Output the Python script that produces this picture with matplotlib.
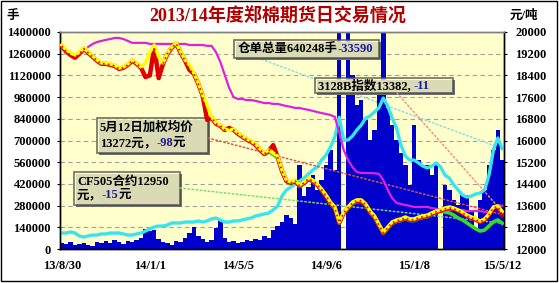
import numpy as np
import matplotlib
matplotlib.use('agg')
import matplotlib.pyplot as plt
from matplotlib.patches import Rectangle

plt.rcParams['font.family'] = ['Liberation Serif', 'Noto Sans CJK SC']
plt.rcParams['font.weight'] = 'bold'

nan = np.nan
date_labels = ['13/8/30', '14/1/1', '14/5/5', '14/9/6', '15/1/8', '15/5/12']

# daily volume (手), sampled
volume = [39000, 32000, 45000, 26000, 32000, 39000, 26000, 19000, 45000, 39000,
          52000, 39000, 58000, 45000, 32000, 52000, 45000, 58000, 71000, 129000,
          116000, 123000, 65000, 45000, 39000, 26000, 52000, 45000, 71000, 103000,
          142000, 84000, 65000, 45000, 58000, 135000, 181000, 71000, 45000, 52000,
          39000, 45000, 58000, 52000, 65000, 58000, 84000, 71000, 123000, 148000,
          174000, 219000, 200000, 161000, 542000, 342000, 400000, 477000, 381000, 445000,
          542000, 639000, 510000, 1450000, 0, 1450000, 1123000, 929000, 961000, 832000,
          703000, 768000, 1026000, 1394000, 910000, 800000, 703000, 619000, 542000, 413000,
          800000, 574000, 542000, 542000, 477000, 542000, 0, 413000, 381000, 316000,
          284000, 348000, 348000, 252000, 120000, 316000, 381000, 542000, 639000, 768000,
          574000]

# 仓单总量 (手)
receipts = [103000, 103000, 110000, 103000, 84000, 77000, 84000, 90000, 90000, 97000,
            97000, 103000, 103000, 103000, 97000, 90000, 90000, 97000, 103000, 116000,
            129000, 142000, 148000, 148000, 155000, 168000, 168000, 168000, 174000, 174000,
            174000, 181000, 174000, 181000, 194000, 200000, 187000, 174000, 174000, 181000,
            181000, 187000, 194000, 200000, 213000, 219000, 226000, 232000, 252000, 277000,
            342000, 381000, 400000, 419000, 439000, 458000, 484000, 510000, 529000, 574000,
            606000, 658000, 723000, 850000, 703000, 703000, 729000, 768000, 800000, 845000,
            858000, 884000, 910000, 974000, 923000, 845000, 781000, 671000, 600000, 574000,
            574000, 555000, 535000, 523000, 535000, 555000, 529000, 477000, 458000, 413000,
            381000, 348000, 335000, 342000, 355000, 361000, 381000, 477000, 639000, 716000,
            648000]

# magenta price line (元/吨)
magenta = [nan, nan, nan, nan, nan, nan, 19450, 19560, 19630, 19670,
           19710, 19740, 19780, 19780, 19740, 19670, 19600, 19600, 19600, 19600,
           19560, 19560, 19560, 19560, 19560, 19560, 19560, 19560, 19560, 19520,
           19520, 19520, 19520, 19490, 19490, 19260, 18900, 18420, 17940, 17600,
           17530, 17530, 17490, 17490, 17460, 17420, 17380, 17380, 17350, 17350,
           17310, 17270, 17240, 17200, 17200, 17160, 17130, 17090, 17050, 17010,
           16980, 16940, 16870, 16280, 15650, 15280, 15020, 14840, 14800, 14800,
           14800, 14790, 14770, 14540, 14180, 13880, 13700, 13660, 13620, 13590,
           13550, 13550, 13550, 13550, 13510, 13480, 13440, 13440, 13440, 13440,
           13440, 13440, 13400, 13400, 13400, 13400, 13360, 13360, 13510, 13620,
           13590]

# 3128B指数
index_3128b = [19520, 19340, 19230, 19150, 19260, 19410, 19260, 19120, 18970, 18860,
               18860, 18820, 18780, 18670, 18710, 18820, 18970, 18860, 18710, 18860,
               19260, 19520, 19080, 18860, 19230, 19450, 19600, 19260, 18970, 18780,
               18490, 18120, 17680, 17310, 16870, 16650, 16570, 16420, 16390, 16420,
               16280, 16170, 16060, 15980, 15870, 15690, 15540, 15650, 15540, 15430,
               14910, 14540, 14470, 14540, 14360, 14470, 14620, 14540, 14400, 14210,
               13990, 13730, 13550, 13000, 13360, 13550, 13730, 13810, 13810, 13660,
               13400, 13220, 12920, 12630, 12810, 13000, 13070, 13110, 13180, 13110,
               13110, 13180, 13220, 13250, 13330, 13400, 13440, 13510, 13550, 13510,
               13440, 13360, 13250, 13180, 13110, 13030, 13110, 13290, 13550, 13590,
               13382]

# 加权均价
weighted = [19480, 19280, 19150, 19050, 19200, 19380, 19230, 19090, 18940, 18830,
            18830, 18790, 18750, 18640, 18680, 18790, 18940, 18830, 18680, 18340,
            18400, 19450, 18300, 18830, 19200, 19420, 19570, 19230, 18940, 18600,
            18460, 18090, 17650, 16760, 16840, 16620, 16540, 16390, 16460, 16390,
            16250, 16140, 16030, 15950, 15840, 15660, 15510, 15620, 15830, 15400,
            14880, 14510, 14440, 14510, 14330, 14440, 14590, 14510, 14370, 14180,
            13960, 13700, 13520, 12970, 13330, 13520, 13700, 13780, 13780, 13630,
            13370, 13190, 12890, 12600, 12780, 12970, 13040, 13080, 13150, 13080,
            13080, 13150, 13190, 13220, 13300, 13370, 13410, 13480, 13520, 13480,
            13410, 13330, 13220, 13150, 13080, 13000, 13080, 13260, 13520, 13560,
            13272]

# CF505合约
cf505 = [nan] * 44 + [
    15810, 15630, 15480, 15590, 15480, 15370,
    14850, 14480, 14410, 14480, 14300, 14410, 14560, 14480, 14340, 14150,
    13930, 13670, 13490, 12940, 13300, 13490, 13670, 13750, 13750, 13600,
    13340, 13160, 12860, 12570, 12750, 12940, 13010, 13050, 13120, 13050,
    13050, 13120, 13160, 13190, 13270, 13340, 13400, 13360, 13330, 13250,
    13140, 13070, 12960, 12850, 12740, 12660, 12700, 12850, 13000, 13070,
    12950]

W, H = 559, 283
x = np.arange(len(volume))

fig = plt.figure(figsize=(W / 100, H / 100), dpi=100, facecolor='white')
ax = fig.add_axes([60 / W, 1 - 249 / H, 444 / W, 217 / H])
ax.set_facecolor('#ffffcc')
ax.bar(x, volume, width=1.0, color='#0000cc', lw=0, zorder=2)
ax.plot(x, receipts, color='#38e4f0', lw=2.4, zorder=3)
ax.set_xlim(-0.4, 100.4)
ax.set_ylim(0, 1400000)
ax.set_yticks(np.arange(0, 1400001, 140000))
ax.set_yticklabels([str(v) for v in range(0, 1400001, 140000)])
ax.set_xticks([0, 20, 40, 60, 80, 100])
ax.set_xticklabels(date_labels)
ax.grid(axis='y', ls=(0, (4, 3)), color='#a0a0a0', lw=0.8)
ax.set_axisbelow(True)
ax.tick_params(axis='y', direction='out', length=2.5, pad=4, labelsize=9)
ax.tick_params(axis='x', length=0, pad=8, labelsize=9)

ax2 = ax.twinx()
ax2.set_ylim(12000, 20000)
ax2.set_yticks(np.arange(12000, 20001, 800))
ax2.tick_params(axis='y', direction='out', length=2.5, pad=5.5, labelsize=9)
ax2.plot(x, magenta, color='#e020e0', lw=1.6, zorder=3)
ax2.plot(x, cf505, color='#33dd22', lw=2.6, zorder=4)
ax2.plot(x, weighted, color='#e00000', lw=3.2, zorder=5)
ax2.plot(x, index_3128b, color='#ffff00', lw=2.5, zorder=6)
ax2.plot(x, weighted, color='#e00000', lw=1.2, ls=(0, (1, 2)), zorder=7)

for a in (ax, ax2):
    for s in a.spines.values():
        s.set_color('black')
        s.set_linewidth(1)
    a.spines['top'].set_color('#808080')

# outer frame
fig.patches.append(Rectangle((1 / W, 2 / H), (W - 3) / W, (H - 3) / H,
                             transform=fig.transFigure, fill=False,
                             ec='black', lw=1))

fig.text(278 / W, 1 - 17 / H, '2013/14年度郑棉期货日交易情况', ha='center',
         va='center', color='#b00000', fontsize=13, weight='bold')
fig.text(13 / W, 1 - 16 / H, '手', ha='center', va='center', fontsize=9)
fig.text(524 / W, 1 - 16 / H, '元/吨', ha='center', va='center', fontsize=9)


def box(x0, y0, x1, y1):
    sh = Rectangle(((x0 + 2) / W, 1 - (y1 + 2) / H), (x1 - x0) / W, (y1 - y0) / H,
                   transform=fig.transFigure, fc='#707070', ec='none', zorder=2.4)
    bx = Rectangle((x0 / W, 1 - y1 / H), (x1 - x0) / W, (y1 - y0) / H,
                   transform=fig.transFigure, fc='#ffffcc', ec='#404040',
                   alpha=0.75, lw=1.2, zorder=2.5)
    ax.add_patch(sh)
    ax.add_patch(bx)


def rich(xp, yp, parts, size=9):
    t = ax2.annotate(parts[0][0], xy=(xp, H - yp), xycoords='figure pixels',
                     va='center', ha='left', color=parts[0][1], fontsize=size,
                     annotation_clip=False, zorder=10)
    for s, c in parts[1:]:
        t = ax2.annotate(s, xy=(1, 0), xycoords=t, va='bottom', ha='left',
                         color=c, fontsize=size, annotation_clip=False, zorder=10)


def link(a, xp, yp, xd, yd, color, z):
    a.annotate('', xy=(xd, yd), xycoords='data', xytext=(xp, H - yp),
               textcoords='figure pixels',
               arrowprops=dict(arrowstyle='-', color=color, ls=':', lw=1.1,
                               shrinkA=0, shrinkB=0), zorder=z)


blue = '#1a1aa0'
link(ax, 258, 58, 100, receipts[-1], '#88dddd', 1.05)
link(ax2, 397, 93, 100, index_3128b[-1], '#ff8888', 1)
link(ax2, 208, 138, 100, weighted[-1], '#e05050', 1)
link(ax2, 180, 188, 100, cf505[-1], '#77dd77', 1)

box(234, 40, 379, 58)
rich(238, 49, [('仓单总量640248手', 'black'), ('-33590', blue)])
box(315, 78, 453, 93)
rich(318, 85.5, [('3128B指数13382, ', 'black'), ('-11', blue)])
box(97, 118, 208, 153)
rich(100, 128, [('5月12日加权均价', 'black')])
rich(100, 143, [('13272元，', 'black'), ('-98', blue), ('元', 'black')])
box(74, 172, 180, 205)
rich(77, 182, [('CF505合约12950', 'black')])
rich(77, 195, [('元，', 'black'), ('-15', blue), ('元', 'black')])

fig.savefig('out.png', dpi=100, facecolor='white')
